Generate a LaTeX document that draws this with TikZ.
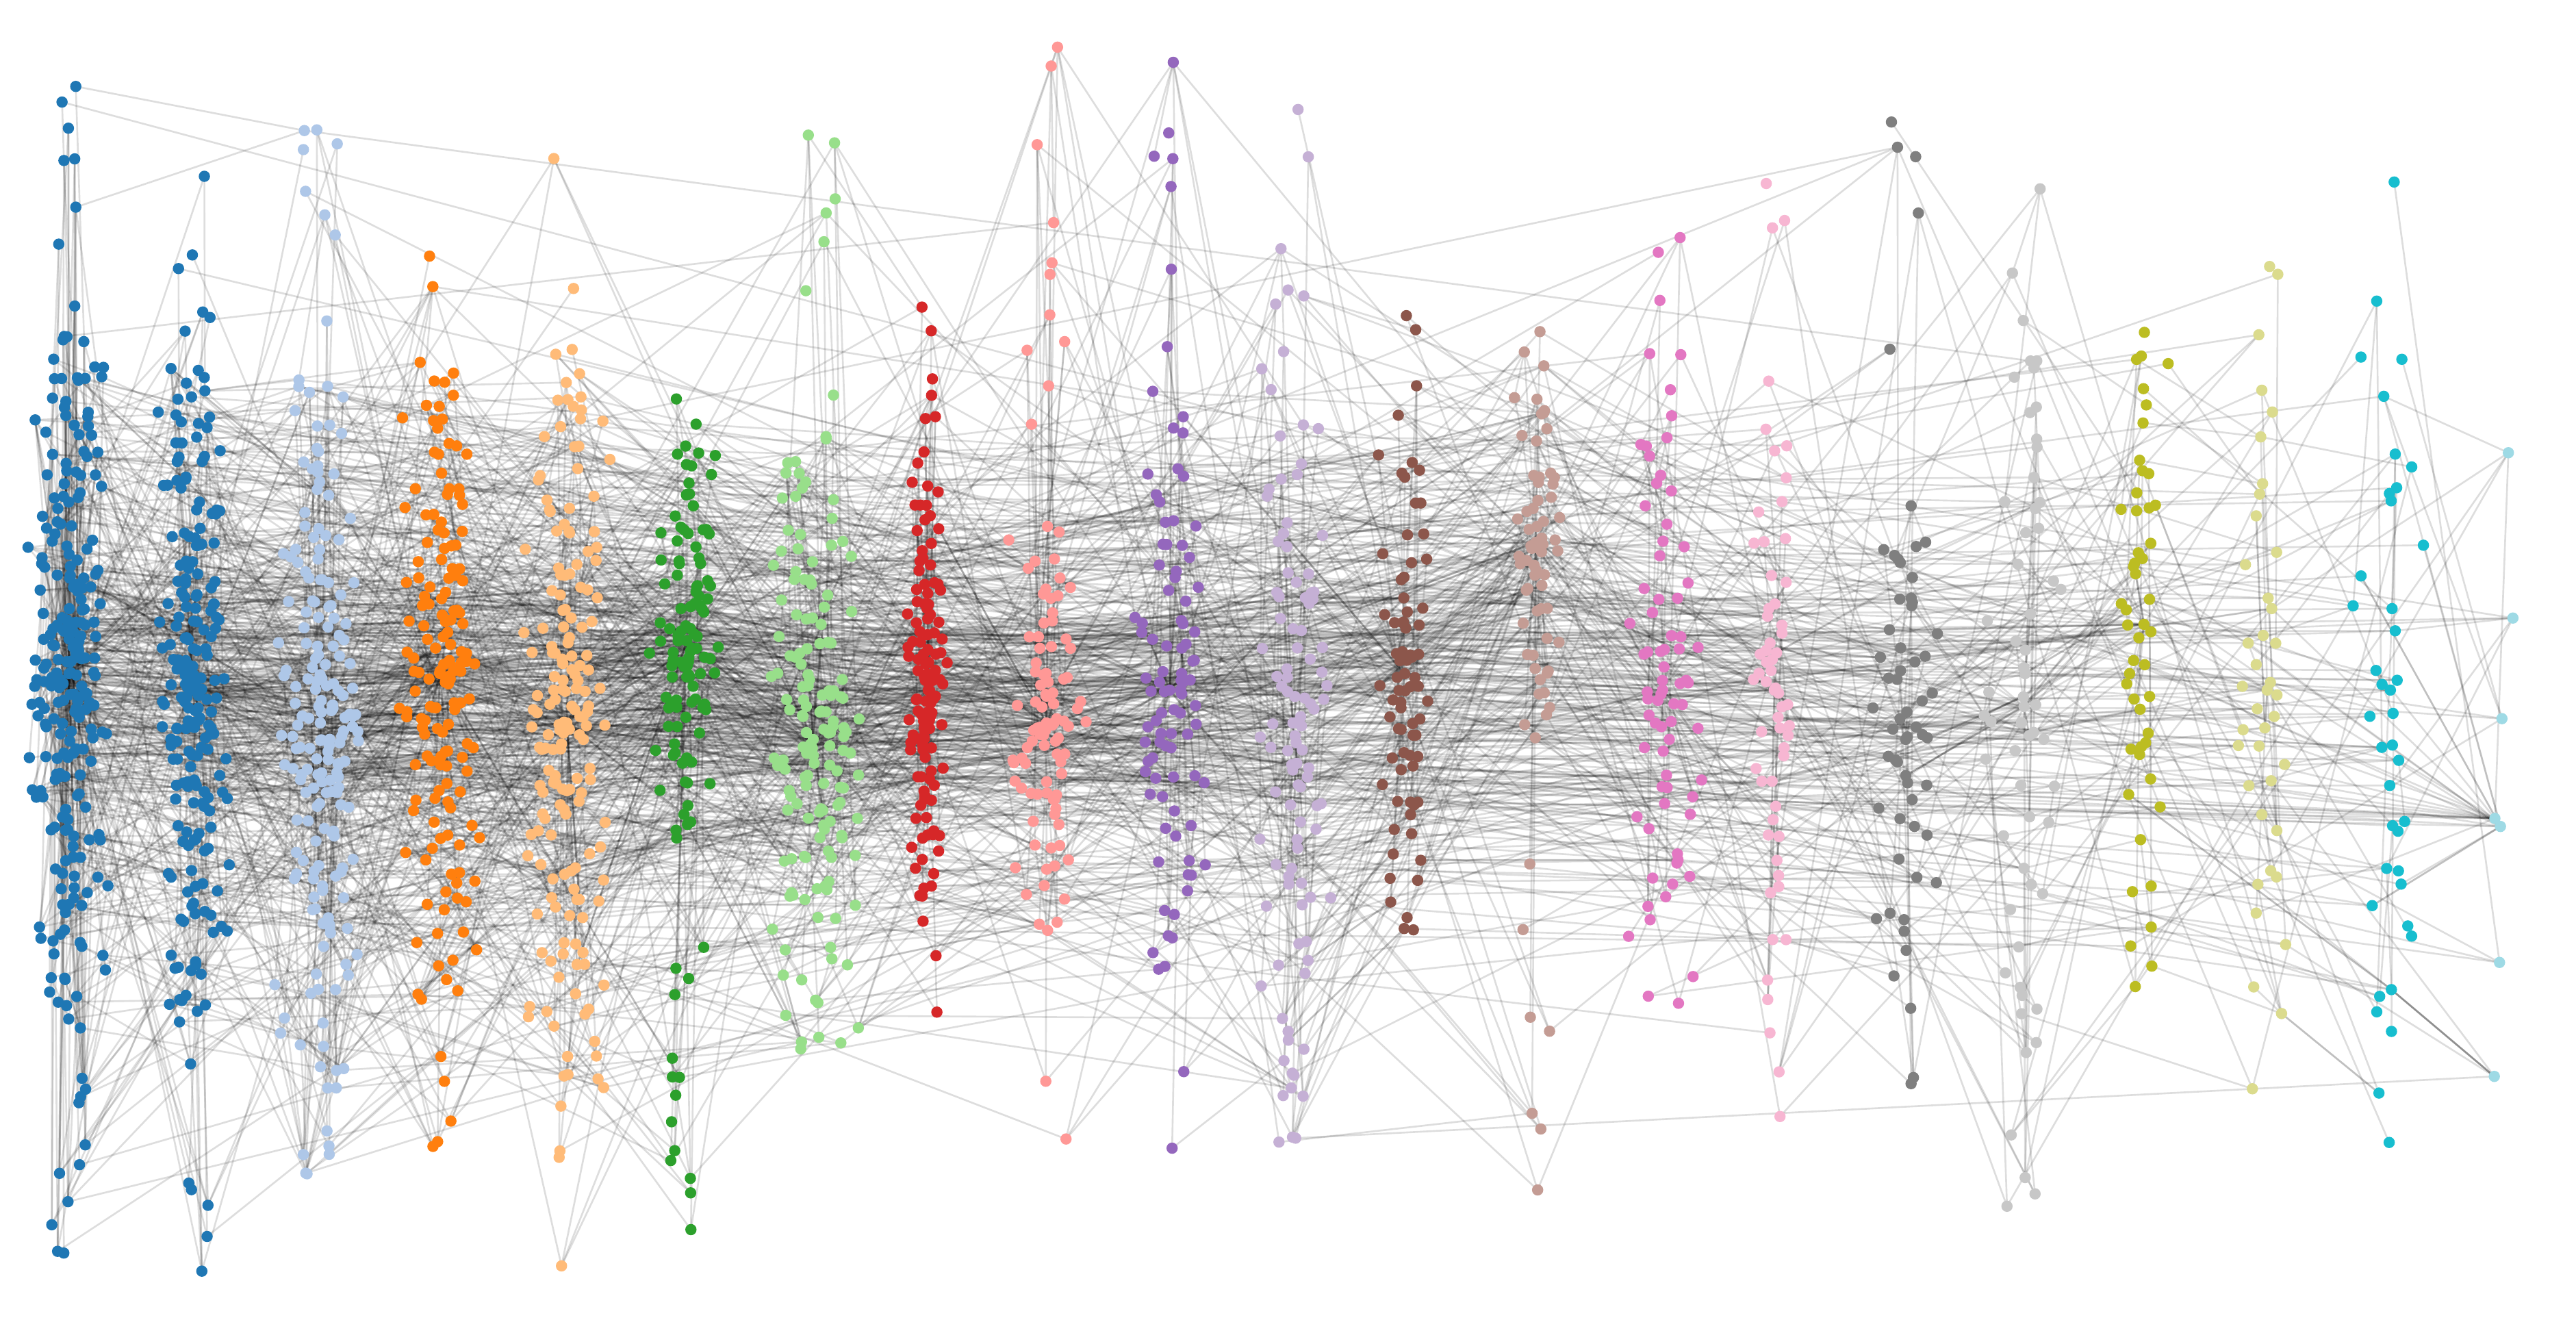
\documentclass[tikz,border=0pt]{standalone}
\usetikzlibrary{backgrounds}
\definecolor{k1}{HTML}{1F77B4}
\definecolor{k2}{HTML}{1F77B4}
\definecolor{k3}{HTML}{AEC7E8}
\definecolor{k4}{HTML}{FF7F0E}
\definecolor{k5}{HTML}{FFBB78}
\definecolor{k6}{HTML}{2CA02C}
\definecolor{k7}{HTML}{98DF8A}
\definecolor{k8}{HTML}{D62728}
\definecolor{k9}{HTML}{FF9896}
\definecolor{k10}{HTML}{9467BD}
\definecolor{k11}{HTML}{C5B0D5}
\definecolor{k12}{HTML}{8C564B}
\definecolor{k13}{HTML}{C49C94}
\definecolor{k14}{HTML}{E377C2}
\definecolor{k15}{HTML}{F7B6D2}
\definecolor{k16}{HTML}{7F7F7F}
\definecolor{k17}{HTML}{C7C7C7}
\definecolor{k18}{HTML}{BCBD22}
\definecolor{k19}{HTML}{DBDB8D}
\definecolor{k20}{HTML}{17BECF}
\definecolor{k21}{HTML}{9EDAE5}
\tikzset{
  dot/.style={circle,inner sep=0pt,minimum size=0.165cm,draw=none,fill},
  edges/.style={draw=black,draw opacity=0.135,line width=0.75pt}
}
\begin{document}
\begin{tikzpicture}[x=0.024cm,y=-0.024cm]
\pgfmathsetseed{11}
\useasboundingbox (0,0) rectangle (1568,803);
\foreach \c/\cx/\sx/\ym/\hy/\ya/\yb/\nb/\nt/\ne in {
 1/42/20/410/210/45/770/210/40/560,
 2/118/18/420/200/95/775/180/35/490,
 3/195/22/440/220/25/720/160/35/450,
 4/268/20/410/190/135/710/135/25/380,
 5/345/22/440/220/45/775/145/30/400,
 6/418/18/390/120/195/775/95/30/270,
 7/495/24/450/190/28/645/125/30/340,
 8/565/11/420/130/160/640/105/25/300,
 9/637/20/440/130/27/710/85/20/240,
 10/712/20/420/170/27/715/75/20/210,
 11/787/20/440/220/43/730/75/30/220,
 12/855/16/410/160/150/580/60/15/160,
 13/935/14/330/120/185/775/50/20/150,
 14/1012/20/420/180/65/670/55/20/130,
 15/1080/11/420/160/27/720/45/15/110,
 16/1160/18/450/160/27/665/40/20/100,
 17/1232/22/430/200/100/775/40/20/90,
 18/1305/14/380/200/155/665/35/15/75,
 19/1380/18/420/200/160/685/30/10/55,
 20/1455/22/420/250/90/775/25/15/50,
 21/1522/15/503/150/155/775/3/4/8}{
  \pgfmathtruncatemacro\ntot{\nb+\nt}
  \expandafter\xdef\csname colN\c\endcsname{\ntot}
  \expandafter\xdef\csname colB\c\endcsname{\nb}
  \expandafter\xdef\csname colE\c\endcsname{\ne}
  \begin{scope}[fill=k\c]
  \node[dot] (n-\c-1) at (\cx,\ym) {};
  \foreach \k in {2,...,\nb}{
    \pgfmathsetmacro\uu{2*(\k-1)/(\nb-1)-1}
    \pgfmathsetmacro\px{\cx+0.65*\sx*(rand+rand)}
    \pgfmathsetmacro\py{max(\ya,min(\yb,\ym+\hy*(0.45*\uu+0.55*\uu*\uu*\uu)+9*rand))}
    \node[dot] (n-\c-\k) at (\px,\py) {};
  }
  \foreach \k in {1,...,\nt}{
    \pgfmathtruncatemacro\kk{\nb+\k}
    \pgfmathsetmacro\px{\cx+0.6*\sx*rand}
    \pgfmathsetmacro\py{\ya+(\yb-\ya)*rnd}
    \node[dot] (n-\c-\kk) at (\px,\py) {};
  }
  \end{scope}
}
\begin{pgfonlayer}{background}
\begin{scope}[edges]
\foreach \c in {1,...,21}{
  \edef\na{\csname colN\c\endcsname}
  \edef\nba{\csname colB\c\endcsname}
  \edef\ne{\csname colE\c\endcsname}
  \foreach \ee in {1,...,\ne}{
    \pgfmathrandominteger{\ia}{1}{\na}
    \pgfmathsetmacro\ru{rnd}
    \pgfmathtruncatemacro\tc{\ru<0.1 ? random(1,21) : max(1,min(21,\c+round(5*rand*rnd)))}
    \edef\nz{\csname colN\tc\endcsname}
    \edef\nbz{\csname colB\tc\endcsname}
    \pgfmathsetmacro\rv{rnd}
    \pgfmathtruncatemacro\jb{\rv<0.18 ? 1 : (\rv<0.8 ? (\ia<=\nba ? max(1,min(\nbz,round(\ia/\nba*\nbz+0.1*\nbz*rand))) : random(1,\nz)) : random(1,\nz))}
    \path[draw] (n-\c-\ia.center) -- (n-\tc-\jb.center);
  }
}
\end{scope}
\end{pgfonlayer}
\end{tikzpicture}
\end{document}
